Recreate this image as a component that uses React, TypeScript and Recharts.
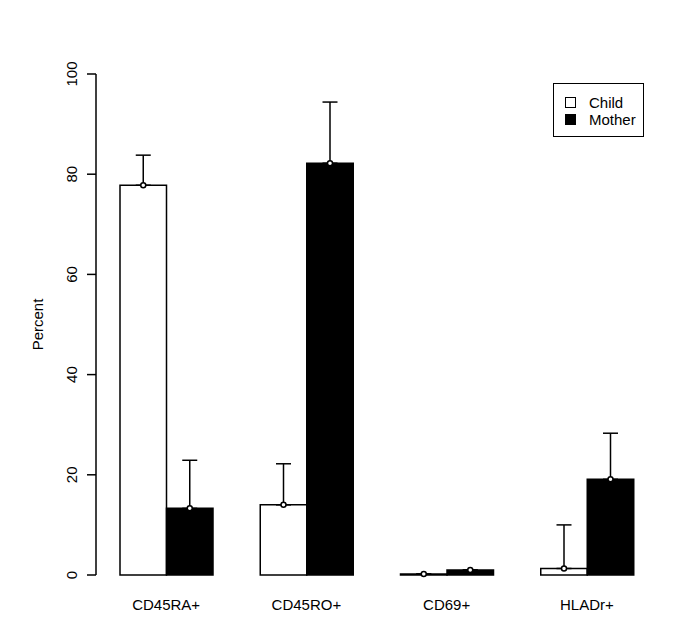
import React from "react";
import { BarChart, Bar, XAxis, YAxis, ErrorBar } from "recharts";

const categories = ["CD45RA+", "CD45RO+", "CD69+", "HLADr+"];
const childValues = [77.8, 14.0, 0.2, 1.3];
const childErrors = [6.0, 8.2, 0, 8.7];
const motherValues = [13.3, 82.2, 1.0, 19.1];
const motherErrors = [9.6, 12.2, 0, 9.2];
const yTicks = [0, 20, 40, 60, 80, 100];

const data = categories.map((name, i) => ({
  name,
  child: childValues[i],
  childErr: [0, childErrors[i]],
  mother: motherValues[i],
  motherErr: [0, motherErrors[i]],
}));

const FONT = "'Liberation Sans', Arial, sans-serif";

const MeanDot = (props: any) => {
  const { x, y, width } = props;
  return <circle cx={x + width / 2} cy={y} r={2.5} fill="#fff" stroke="#000" strokeWidth={1.5} />;
};

const YTick = (props: any) => {
  const { x, y, payload } = props;
  return (
    <text
      transform={`translate(${x - 8},${y}) rotate(-90)`}
      textAnchor="middle"
      fontSize={15}
      fontFamily={FONT}
      fill="#000"
    >
      {payload.value}
    </text>
  );
};

const LegendBox = () => (
  <div
    style={{
      position: "absolute",
      left: 553,
      top: 83,
      border: "1.5px solid #000",
      width: 91,
      height: 54,
      boxSizing: "border-box",
      fontFamily: FONT,
      fontSize: 15,
      padding: "10px 0 0 11px",
      lineHeight: "17px",
      background: "#fff",
    }}
  >
    <div style={{ display: "flex", alignItems: "center" }}>
      <span style={{ width: 9, height: 9, border: "1.5px solid #000", marginRight: 13, display: "inline-block" }} />
      Child
    </div>
    <div style={{ display: "flex", alignItems: "center" }}>
      <span style={{ width: 9, height: 9, border: "1.5px solid #000", background: "#000", marginRight: 13, display: "inline-block" }} />
      Mother
    </div>
  </div>
);

export default function App() {
  return (
    <div style={{ position: "absolute", left: 0, top: 0, width: 685, height: 642, background: "#fff" }}>
      <BarChart
        width={685}
        height={642}
        data={data}
        margin={{ top: 74, right: 28, bottom: 32, left: 36 }}
        barSize={46.5}
        barGap={0}
      >
        <XAxis
          dataKey="name"
          axisLine={false}
          tickLine={false}
          height={35}
          tickMargin={18}
          tick={{ fontSize: 15, fontFamily: FONT, fill: "#000" }}
        />
        <YAxis
          width={60}
          domain={[0, 100]}
          ticks={yTicks}
          tickSize={9}
          tickLine={{ stroke: "#000", strokeWidth: 1.5 }}
          axisLine={{ stroke: "#000", strokeWidth: 1.5 }}
          tick={<YTick />}
          label={{
            value: "Percent",
            angle: -90,
            position: "insideLeft",
            offset: 2,
            style: { textAnchor: "middle", fontSize: 15, fontFamily: FONT, fill: "#000" },
          }}
        />
        <Bar dataKey="child" fill="#fff" stroke="#000" strokeWidth={1.5} isAnimationActive={false} label={<MeanDot />}>
          <ErrorBar dataKey="childErr" direction="y" width={7.5} stroke="#000" strokeWidth={1.5} isAnimationActive={false} />
        </Bar>
        <Bar dataKey="mother" fill="#000" stroke="#000" strokeWidth={1.5} isAnimationActive={false} label={<MeanDot />}>
          <ErrorBar dataKey="motherErr" direction="y" width={7.5} stroke="#000" strokeWidth={1.5} isAnimationActive={false} />
        </Bar>
      </BarChart>
      <LegendBox />
    </div>
  );
}
